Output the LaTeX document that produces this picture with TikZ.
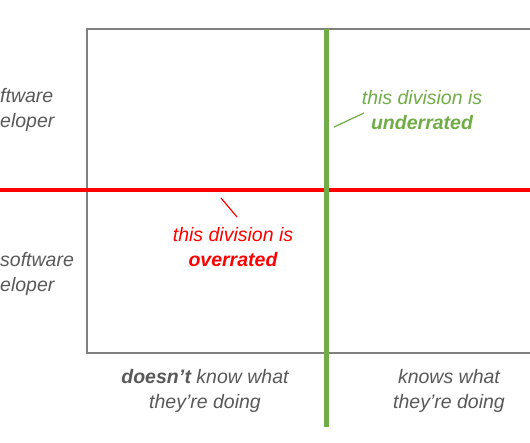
\documentclass[tikz,border=0pt]{standalone}
\usepackage{fontspec}
\setmainfont{Liberation Sans}
\definecolor{boxgray}{HTML}{808080}
\definecolor{txtgray}{HTML}{595959}
\definecolor{divgreen}{HTML}{70AD47}
\definecolor{divred}{HTML}{FF0000}
\begin{document}
\begin{tikzpicture}[x=1pt,y=-1pt, every node/.style={font=\itshape\fontsize{19.5}{25}\selectfont,inner sep=0pt,align=center},
  axislabel/.style={text=txtgray},
  note/.style={inner sep=0pt}]
\useasboundingbox (0,0) rectangle (530,442);
\clip (0,0) rectangle (530,442);
\fill[white] (0,0) rectangle (530,442);
% quadrant frame
\coordinate (tr) at (535,29);
\coordinate (tl) at (87,29);
\coordinate (bl) at (87,353);
\coordinate (br) at (535,353);
\draw[boxgray,line width=2pt] (tr) -- (tl) -- (bl) -- (br);
% dividing lines
\coordinate (rl) at (-5,190);
\coordinate (rr) at (535,190);
\coordinate (gt) at (326,29);
\coordinate (gb) at (326,427);
\draw[divred,line width=4pt] (rl) -- (rr);
\draw[divgreen,line width=5pt] (gt) -- (gb);
% axis labels
\node[axislabel,anchor=west,align=left] (good) at (0,109.5) {ftware\\eloper};
\node[axislabel,anchor=west,align=left] (bad) at (0,273.5) {software\\eloper};
\node[axislabel] (clueless) at (205,390.5) {\textbf{doesn’t} know what\\they’re doing};
\node[axislabel] (knows) at (449,390.5) {knows what\\they’re doing};
% notes
\node[note,text=divgreen] (under) at (422,110) {this division is\\\textbf{underrated}};
\node[note,text=divred] (over) at (233,247.5) {this division is\\\textbf{overrated}};
\coordinate (ua) at (334,127);
\coordinate (ub) at (364,113);
\coordinate (oa) at (221,198);
\coordinate (ob) at (237,217);
\draw[divgreen,line width=1.2pt] (ua) -- (ub);
\draw[divred,line width=1.2pt] (oa) -- (ob);
\end{tikzpicture}
\end{document}
